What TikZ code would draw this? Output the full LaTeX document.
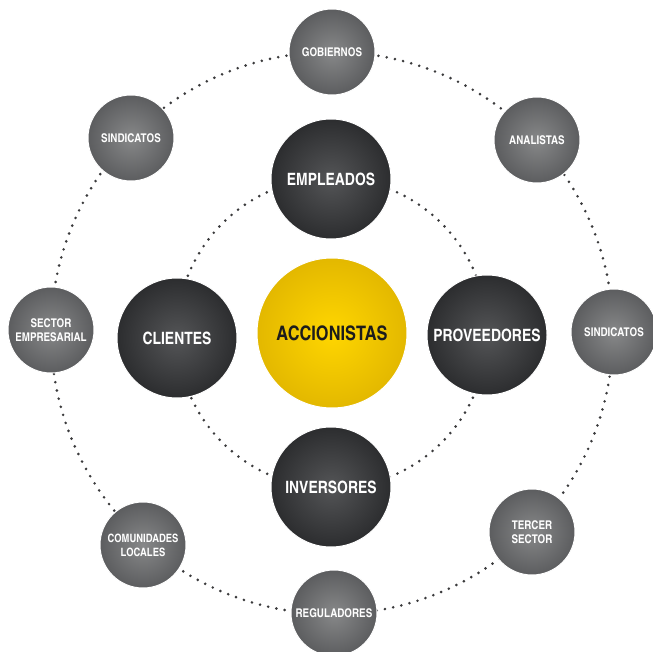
\documentclass[tikz,border=0pt]{standalone}
\usepackage{fontspec}
\setmainfont{TeX Gyre Heros Cn}
\definecolor{ringdot}{HTML}{3A3A3C}
\definecolor{outerlight}{HTML}{878889}
\definecolor{outerdark}{HTML}{5C5D5F}
\definecolor{innerlight}{HTML}{545557}
\definecolor{innerdark}{HTML}{2C2D2F}
\definecolor{corelight}{HTML}{FFD600}
\definecolor{coredark}{HTML}{E3B800}
\definecolor{coretext}{HTML}{1C1C1C}

\begin{document}
\begin{tikzpicture}[x=1pt,y=-1pt,
  every node/.style={circle,align=center,text=white,draw=white,line width=1pt},
  outerball/.style={minimum size=86pt,inner color=outerlight,outer color=outerdark,
    font=\bfseries\fontsize{12}{14}\selectfont},
  innerball/.style={minimum size=120pt,inner color=innerlight,outer color=innerdark,
    font=\bfseries\fontsize{17}{19}\selectfont},
  coreball/.style={minimum size=150pt,inner color=corelight,outer color=coredark,
    text=coretext,font=\bfseries\fontsize{20}{22}\selectfont},
  dotring/.style={ringdot,line width=2.9pt,line cap=round,dash pattern=on 0pt off 8.4pt}]
  \useasboundingbox (0,0) rectangle (653,652);
  \coordinate (mid) at (332,333);
  % rings
  \draw[dotring] (mid) circle (155pt);
  \draw[dotring] (mid) circle (281pt);
  % centre and inner ring
  \node[coreball] (acc) at (mid) {ACCIONISTAS};
  \node[innerball] (emp) at (331,179) {EMPLEADOS};
  \node[innerball] (cli) at (177,338) {CLIENTES};
  \node[innerball] (pro) at (487,335) {PROVEEDORES};
  \node[innerball] (inv) at (331,487) {INVERSORES};
  % outer ring
  \node[outerball] (gob) at (332,52) {GOBIERNOS};
  \node[outerball] (sinl) at (131,138) {SINDICATOS};
  \node[outerball] (ana) at (537,140) {ANALISTAS};
  \node[outerball] (sec) at (51,330) {SECTOR\\EMPRESARIAL};
  \node[outerball] (sinr) at (614,332) {SINDICATOS};
  \node[outerball,font=\bfseries\fontsize{11.5}{14}\selectfont] (com) at (143,545) {COMUNIDADES\\LOCALES};
  \node[outerball] (ter) at (532,532) {TERCER\\SECTOR};
  \node[outerball] (reg) at (334,613) {REGULADORES};
\end{tikzpicture}
\end{document}
